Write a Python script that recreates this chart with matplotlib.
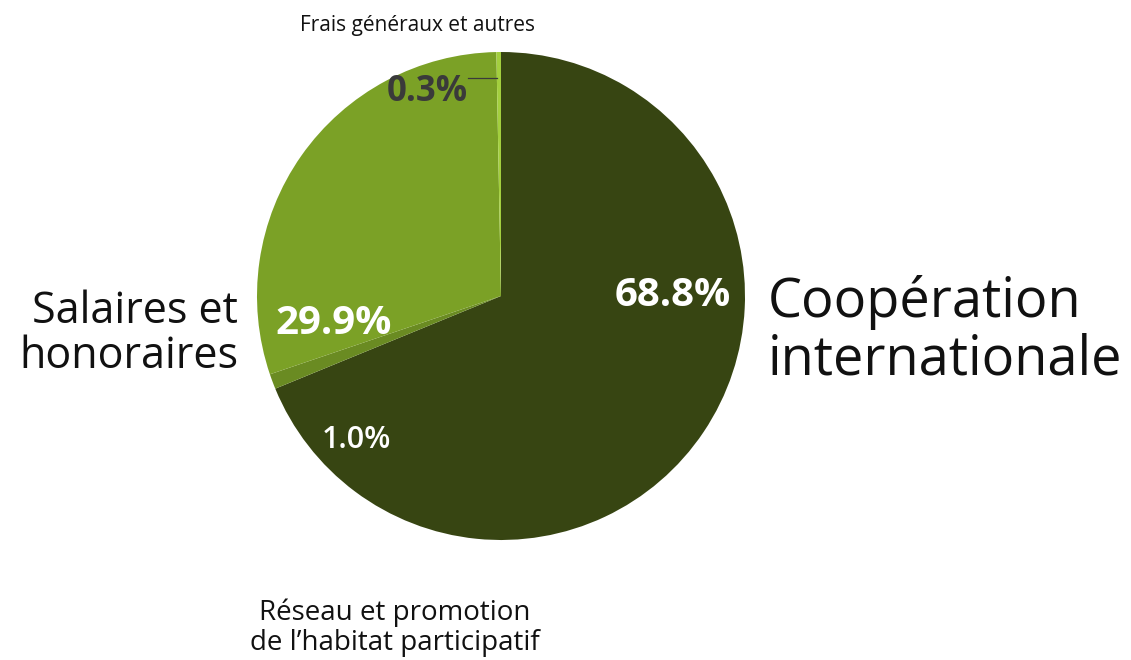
import matplotlib.pyplot as plt

plt.rcParams['font.family'] = ['Open Sans', 'DejaVu Sans']

# data, clockwise from 12 o'clock
categories = ['Coopération\ninternationale', 'Réseau et promotion\nde l\u2019habitat participatif',
              'Salaires et\nhonoraires', 'Frais généraux et autres']
shares = [68.8, 1.0, 29.9, 0.3]
pct_labels = ['68.8%', '1.0%', '29.9%', '0.3%']
colors = ['#374512', '#6a8b22', '#7ba126', '#a3cf3e']

W, H = 1131, 660
fig = plt.figure(figsize=(W / 100, H / 100), dpi=100)
ax = fig.add_axes([0, 0, 1, 1])


def Y(py):
    return H - py


cx, cy, r = 501, 296, 244
ax.pie(shares, colors=colors, startangle=90, counterclock=False,
       center=(cx, Y(cy)), radius=r, frame=True,
       wedgeprops=dict(linewidth=0))
ax.set_xlim(0, W)
ax.set_ylim(0, H)
ax.set_aspect('equal')
ax.axis('off')

# percentage labels inside the pie
ax.text(673, Y(296), pct_labels[0], color='white', fontsize=29, fontweight='bold',
        ha='center', va='center')
ax.text(356, Y(440), pct_labels[1], color='white', fontsize=22, fontweight='semibold',
        ha='center', va='center')
ax.text(334, Y(323), pct_labels[2], color='white', fontsize=29, fontweight='bold',
        ha='center', va='center')
ax.text(427, Y(92), pct_labels[3], color='#3a3a3a', fontsize=25, fontweight='bold',
        ha='center', va='center')
ax.plot([468, 497], [Y(78), Y(78)], color='#3a3a3a', linewidth=0.9)

# category labels
ax.text(768, Y(331), categories[0], color='#111111', fontsize=39,
        ha='left', va='center', linespacing=1.05)
ax.text(395, Y(628), categories[1], color='#111111', fontsize=20,
        ha='center', va='center', linespacing=1.1)
ax.text(238, Y(334), categories[2], color='#111111', fontsize=31,
        ha='right', va='center', linespacing=1.0)
ax.text(418, Y(26), categories[3], color='#111111', fontsize=15,
        ha='center', va='center')

fig.savefig('out.png', dpi=100)
